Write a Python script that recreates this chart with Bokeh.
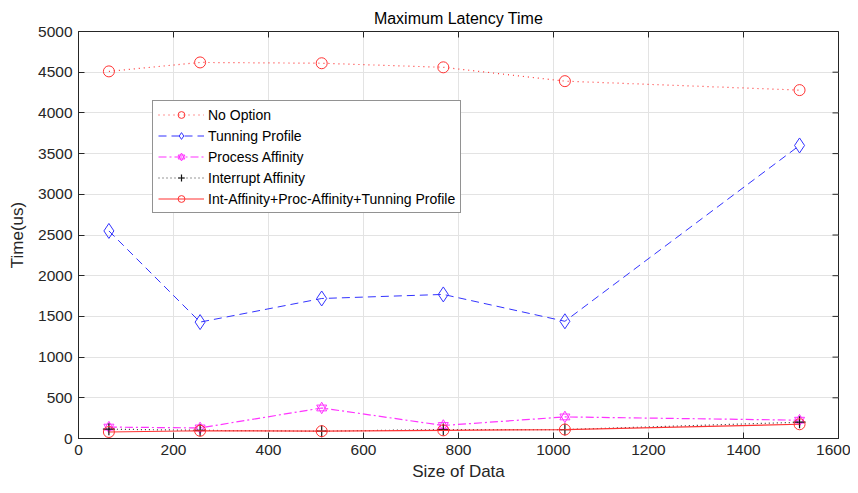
import math
from bokeh.plotting import figure
from bokeh.models import Legend, LegendItem, Range1d, FixedTicker
from bokeh.embed import file_html
from bokeh.resources import INLINE

sizes = [64, 256, 512, 768, 1024, 1518]
no_option = [4510, 4620, 4610, 4560, 4390, 4280]
tunning_profile = [2550, 1430, 1720, 1770, 1440, 3600]
process_affinity = [140, 130, 375, 160, 265, 225]
interrupt_affinity = [115, 100, 90, 110, 110, 200]
combined = [80, 95, 90, 100, 110, 175]

x_ticks = [0, 200, 400, 600, 800, 1000, 1200, 1400, 1600]
y_ticks = [0, 500, 1000, 1500, 2000, 2500, 3000, 3500, 4000, 4500, 5000]
x_max = 1600
y_max = 5000

FONT = "Liberation Sans"
TXT = "#262626"

p = figure(width=850, height=485, output_backend="svg", toolbar_location=None,
           x_range=Range1d(0, x_max), y_range=Range1d(0, y_max),
           min_border_left=78, min_border_right=12, min_border_top=31, min_border_bottom=47)
p.title.text = "Maximum Latency Time"
p.title.align = "center"
p.title.text_font = FONT
p.title.text_font_size = "16px"
p.title.text_font_style = "normal"
p.title.text_color = "#000000"
p.outline_line_color = TXT
p.outline_line_width = 1
p.background_fill_color = "white"
p.border_fill_color = "white"

for ax in (p.xaxis[0], p.yaxis[0]):
    ax.major_label_text_font = FONT
    ax.major_label_text_font_size = "15.5px"
    ax.major_label_text_color = TXT
    ax.axis_label_text_font = FONT
    ax.axis_label_text_font_size = "17px"
    ax.axis_label_text_font_style = "normal"
    ax.axis_label_text_color = TXT
    ax.axis_line_color = TXT
    ax.major_tick_line_color = TXT
    ax.major_tick_in = 6
    ax.major_tick_out = 0
    ax.minor_tick_line_color = None
p.xaxis[0].ticker = FixedTicker(ticks=x_ticks)
p.yaxis[0].ticker = FixedTicker(ticks=y_ticks)
p.xaxis[0].axis_label = "Size of Data"
p.yaxis[0].axis_label = "Time(us)"
p.xaxis[0].major_label_standoff = 6
p.yaxis[0].major_label_standoff = 6
p.xaxis[0].axis_label_standoff = 4
p.yaxis[0].axis_label_standoff = 8

p.xgrid.ticker = FixedTicker(ticks=x_ticks)
p.ygrid.ticker = FixedTicker(ticks=y_ticks)
p.grid.grid_line_color = "#e3e3e3"
p.grid.grid_line_width = 1

# MATLAB-style box ticks on the right and top edges (half of each dash is clipped by the frame)
p.scatter([x_max] * len(y_ticks), y_ticks, marker="dash", size=12, line_color=TXT, line_width=1)
p.scatter(x_ticks, [y_max] * len(x_ticks), marker="dash", size=12, angle=math.pi / 2,
          line_color=TXT, line_width=1)

items = []

r1 = p.line(sizes, no_option, line_color="#ff3333", line_dash="1 4", line_width=1.2)
m1 = p.scatter(sizes, no_option, marker="circle", size=11, fill_color=None, line_color="#ff3333", line_width=1)
items.append(LegendItem(label="No Option", renderers=[r1, m1]))

r2 = p.line(sizes, tunning_profile, line_color="#3333ff", line_dash="8 5", line_width=1)
m2 = p.scatter(sizes, tunning_profile, marker="diamond", size=15, fill_color=None, line_color="#3333ff", line_width=1)
items.append(LegendItem(label="Tunning Profile", renderers=[r2, m2]))

r3 = p.line(sizes, process_affinity, line_color="#ff33ff", line_dash="8 3 2 3", line_width=1.2)
m3a = p.scatter(sizes, process_affinity, marker="triangle", size=10, fill_color=None, line_color="#ff33ff", line_width=1)
m3b = p.scatter(sizes, process_affinity, marker="inverted_triangle", size=10, fill_color=None, line_color="#ff33ff", line_width=1)
items.append(LegendItem(label="Process Affinity", renderers=[r3, m3a, m3b]))

r4 = p.line(sizes, interrupt_affinity, line_color="#333333", line_dash="1 3", line_width=1.2)
m4 = p.scatter(sizes, interrupt_affinity, marker="cross", size=12, line_color="#111111", line_width=1.2)
items.append(LegendItem(label="Interrupt Affinity", renderers=[r4, m4]))

r5 = p.line(sizes, combined, line_color="#ff3333", line_width=1.2)
m5 = p.scatter(sizes, combined, marker="circle", size=11, fill_color=None, line_color="#ff3333", line_width=1)
items.append(LegendItem(label="Int-Affinity+Proc-Affinity+Tunning Profile", renderers=[r5, m5]))

legend = Legend(items=items, location=(74, 225))
legend.label_text_font = FONT
legend.label_text_font_size = "14px"
legend.label_text_color = "#000000"
legend.glyph_width = 46
legend.glyph_height = 17
legend.label_height = 17
legend.spacing = 4
legend.padding = 5
legend.margin = 0
legend.label_standoff = 4
legend.border_line_color = "#262626"
legend.border_line_width = 1
legend.background_fill_alpha = 1
p.add_layout(legend)

open("out.html", "w").write(file_html(p, INLINE))
